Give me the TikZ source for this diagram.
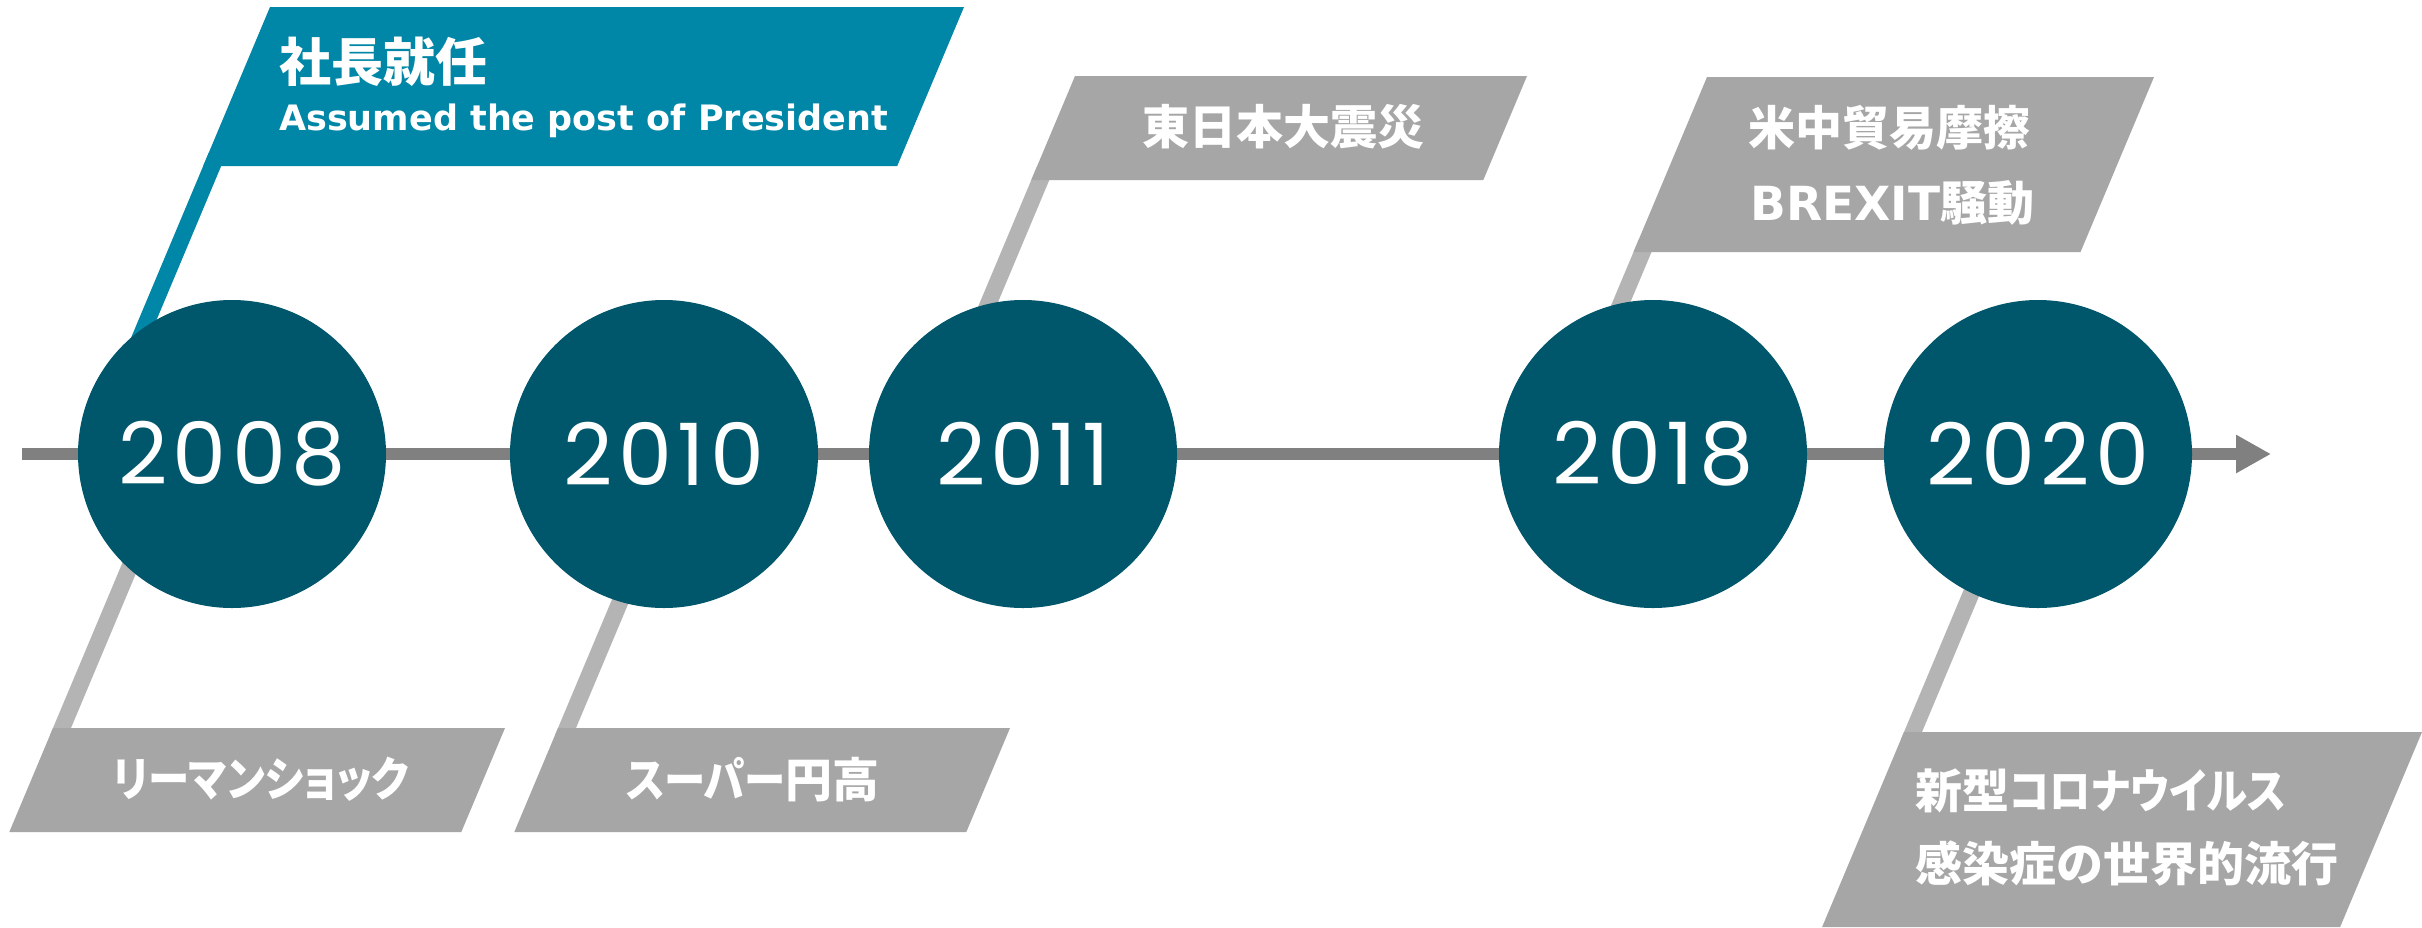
\documentclass[tikz,border=0pt]{standalone}
\usepackage{fontspec}
\usetikzlibrary{arrows.meta}
\newfontfamily\jpf{Noto Sans CJK JP}
\newfontfamily\kanaf{Noto Sans CJK JP}[RawFeature=+palt, FakeStretch=0.88]
\newfontfamily\latf{DejaVu Sans}
\newfontfamily\yrf{Poppins}[LetterSpace=6]
\definecolor{circc}{HTML}{00566A}
\definecolor{bluec}{HTML}{0087A7}
\definecolor{boxc}{HTML}{A6A6A6}
\definecolor{stemc}{HTML}{B4B4B4}
\definecolor{linec}{HTML}{808080}
\begin{document}
\begin{tikzpicture}[x=1pt,y=-1pt,
  yearc/.style={circle, fill=circc, minimum size=308pt, inner sep=0pt, text=white, font=\yrf\fontsize{86pt}{90pt}\selectfont},
  bluebox/.style={fill=bluec},
  graybox/.style={fill=boxc},
  bluestem/.style={draw=bluec, line width=16.6pt},
  graystem/.style={draw=stemc, line width=16.6pt},
  timeline/.style={draw=linec, line width=12pt, -{Triangle[length=35pt,width=36pt]}},
  lbl/.style={inner sep=0pt, text=white, font=\jpf\bfseries\fontsize{47pt}{56pt}\selectfont},
  ]
\useasboundingbox (0,0) rectangle (2422,927);
\fill[white] (0,0) rectangle (2422,927);
% stems
\coordinate (s1a) at (216.4,156);  \coordinate (s1b) at (118.1,390);
\coordinate (s2a) at (1044.5,170); \coordinate (s2b) at (952.1,390);
\coordinate (s3a) at (1646.7,242); \coordinate (s3b) at (1584.5,390);
\coordinate (s4a) at (57.8,738);   \coordinate (s4b) at (149.4,520);
\coordinate (s5a) at (562.8,738);  \coordinate (s5b) at (654.4,520);
\coordinate (s6a) at (1908.8,742); \coordinate (s6b) at (2002,520);
\draw[bluestem] (s1a) -- (s1b);
\draw[graystem] (s2a) -- (s2b);
\draw[graystem] (s3a) -- (s3b);
\draw[graystem] (s4a) -- (s4b);
\draw[graystem] (s5a) -- (s5b);
\draw[graystem] (s6a) -- (s6b);
% boxes
\fill[bluebox] (270,7) -- (964,7) -- (897.2,166) -- (203.2,166) -- cycle;
\fill[graybox] (1075,76) -- (1527,76) -- (1483.3,180) -- (1031.3,180) -- cycle;
\fill[graybox] (1707,77) -- (2154,77) -- (2080.5,252) -- (1633.5,252) -- cycle;
\fill[graybox] (53,728) -- (505,728) -- (461.3,832) -- (9.3,832) -- cycle;
\fill[graybox] (558,728) -- (1010,728) -- (966.3,832) -- (514.3,832) -- cycle;
\fill[graybox] (1904,732) -- (2422,732) -- (2340.1,927) -- (1822.1,927) -- cycle;
% timeline
\coordinate (tlstart) at (22,454);
\coordinate (tlend) at (2271,454);
\draw[timeline] (tlstart) -- (tlend);
% years
\node[yearc] (y2008) at (232,454) {2008};
\node[yearc] (y2010) at (664,454) {2010};
\node[yearc] (y2011) at (1023,454) {2011};
\node[yearc] (y2018) at (1653,454) {2018};
\node[yearc] (y2020) at (2038,454) {2020};
% labels
\node[lbl, font=\jpf\bfseries\fontsize{52pt}{60pt}\selectfont, anchor=base west] (blueA) at (279,81.5) {社長就任};
\node[lbl, font=\latf\bfseries\fontsize{35pt}{40pt}\selectfont, anchor=base west] (blueB) at (279,130.5) {Assumed the post of President};
\node[lbl, anchor=base] (tohoku) at (1283,144.5) {東日本大震災};
\node[lbl, anchor=base west] (usa) at (1748,145.6) {米中貿易摩擦};
\node[lbl, anchor=base west] (brexit) at (1750,220.6) {{\latf\bfseries BREXIT}騒動};
\node[lbl, anchor=base] (lehman) at (261,796.6) {{\kanaf\bfseries リーマンショック}};
\node[lbl, anchor=base] (yen) at (752.5,797.6) {{\kanaf\bfseries スーパー}円高};
\node[lbl, anchor=base west] (covidA) at (1915,808.6) {新型{\kanaf\bfseries コロナウイルス}};
\node[lbl, anchor=base west] (covidB) at (1915,881.6) {感染症の世界的流行};
\end{tikzpicture}
\end{document}
